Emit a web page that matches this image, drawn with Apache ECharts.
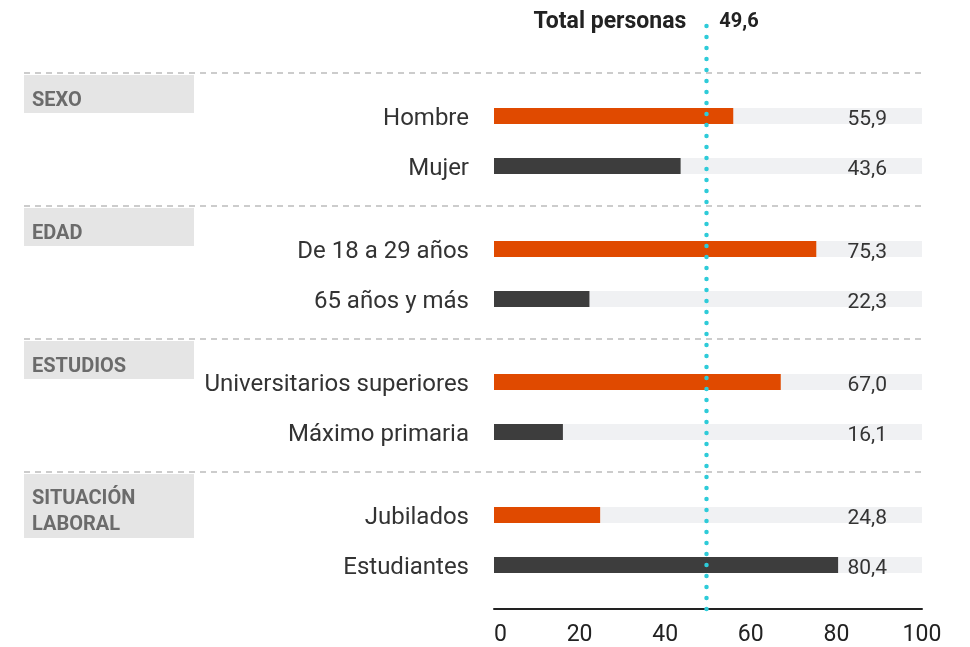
<!DOCTYPE html>
<html>
<head>
<meta charset="utf-8">
<script src="https://cdn.jsdelivr.net/npm/echarts@6/dist/echarts.min.js"></script>
<style>html,body{margin:0;padding:0;background:#fff}#c{width:970px;height:647px}</style>
</head>
<body>
<div id="c"></div>
<script>
// ---- data ----
var groupNames = ['SEXO', 'EDAD', 'ESTUDIOS', 'SITUACIÓN\nLABORAL'];
var sexoCats = ['Hombre', 'Mujer'];
var sexoVals = [55.9, 43.6];
var edadCats = ['De 18 a 29 años', '65 años y más'];
var edadVals = [75.3, 22.3];
var estudiosCats = ['Universitarios superiores', 'Máximo primaria'];
var estudiosVals = [67.0, 16.1];
var laboralCats = ['Jubilados', 'Estudiantes'];
var laboralVals = [24.8, 80.4];
var totalLabel = 'Total personas';
var totalValue = 49.6;
var xTicks = [0, 20, 40, 60, 80, 100];

var groupCats = [sexoCats, edadCats, estudiosCats, laboralCats];
var groupVals = [sexoVals, edadVals, estudiosVals, laboralVals];

// ---- layout ----
var FONT = 'Roboto';
var L = 494, W = 428;
var gridTops = [91, 224, 357, 490];
var GH = 100;
var sepYs = [73, 206, 339, 472];
var fmt = function (v) { return v.toFixed(1).replace('.', ','); };
var COLORS = ['#e04a00', '#3d3d3d'];

var grids = [], xAxes = [], yAxes = [], series = [];
for (var g = 0; g < 4; g++) {
  grids.push({ left: L, width: W, top: gridTops[g], height: GH });
  xAxes.push({ gridIndex: g, type: 'value', min: 0, max: 100, show: false });
  yAxes.push({
    gridIndex: g, type: 'category', inverse: true, data: groupCats[g],
    axisLine: { show: false }, axisTick: { show: false },
    axisLabel: { color: '#333', fontFamily: FONT, fontSize: 24, margin: 25, verticalAlign: 'top', lineHeight: 6 }
  });
  (function (vals) {
    series.push({
      type: 'bar', xAxisIndex: g, yAxisIndex: g, barWidth: 16, barGap: '-100%',
      silent: true, animation: false,
      data: vals.map(function () { return 100; }),
      itemStyle: { color: '#f0f1f3' },
      label: {
        show: true, position: 'insideRight', distance: 35, offset: [0, 4],
        color: '#333', fontFamily: FONT, fontSize: 21,
        formatter: function (p) { return fmt(vals[p.dataIndex]); }
      },
      z: 1
    });
    series.push({
      type: 'bar', xAxisIndex: g, yAxisIndex: g, barWidth: 16, barGap: '-100%',
      animation: false,
      data: vals.map(function (v, i) { return { value: v, itemStyle: { color: COLORS[i] } }; }),
      z: 2
    });
  })(groupVals[g]);
}
// overall axis grid with the total reference line
grids.push({ left: L, width: W, top: 18, bottom: 647 - 609 });
xAxes.push({
  gridIndex: 4, type: 'value', min: xTicks[0], max: xTicks[xTicks.length - 1], interval: 20,
  axisLine: { show: true, lineStyle: { color: '#222', width: 2 } },
  axisTick: { show: false }, splitLine: { show: false },
  axisLabel: { color: '#222', fontFamily: FONT, fontSize: 23, margin: 15, alignMinLabel: 'left' }
});
yAxes.push({ gridIndex: 4, type: 'value', min: 0, max: 1, show: false });
series.push({
  type: 'scatter', xAxisIndex: 4, yAxisIndex: 4, data: [], animation: false,
  markLine: {
    silent: true, symbol: 'none', animation: false,
    label: { show: false },
    lineStyle: { color: '#2ecbd8', width: 4.5, type: [0, 11], cap: 'round', opacity: 1 },
    data: [{ xAxis: totalValue }]
  },
  z: 5
});

// decorations: separators and group headers
var graphic = [];
sepYs.forEach(function (y, i) {
  graphic.push({
    type: 'line', shape: { x1: 24, y1: y, x2: 922, y2: y },
    style: { stroke: '#999', lineWidth: 1, lineDash: [6, 5] }, silent: true
  });
  var multi = groupNames[i].indexOf('\n') >= 0;
  graphic.push({
    type: 'rect', shape: { x: 24, y: y + 2, width: 170, height: multi ? 64 : 38 },
    style: { fill: '#e5e5e5' }, silent: true
  });
  graphic.push({
    type: 'text', x: 32, y: y + 2 + (multi ? 38 : 26),
    style: {
      text: groupNames[i], fill: '#6b6b6b', font: 'bold 20px ' + FONT,
      verticalAlign: 'middle', lineHeight: 26
    }, silent: true
  });
});

var chart = echarts.init(document.getElementById('c'));
chart.setOption({
  animation: false,
  grid: grids, xAxis: xAxes, yAxis: yAxes, series: series, graphic: graphic
});
var px = chart.convertToPixel({ gridIndex: 4 }, [totalValue, 0])[0];
graphic.push({
  type: 'text', x: px - 20, y: 22,
  style: { text: totalLabel, fill: '#222', font: 'bold 23px ' + FONT, align: 'right', verticalAlign: 'middle' }, silent: true
});
graphic.push({
  type: 'text', x: px + 13, y: 22,
  style: { text: fmt(totalValue), fill: '#222', font: 'bold 20px ' + FONT, align: 'left', verticalAlign: 'middle' }, silent: true
});
chart.setOption({ graphic: graphic });
</script>
</body>
</html>
